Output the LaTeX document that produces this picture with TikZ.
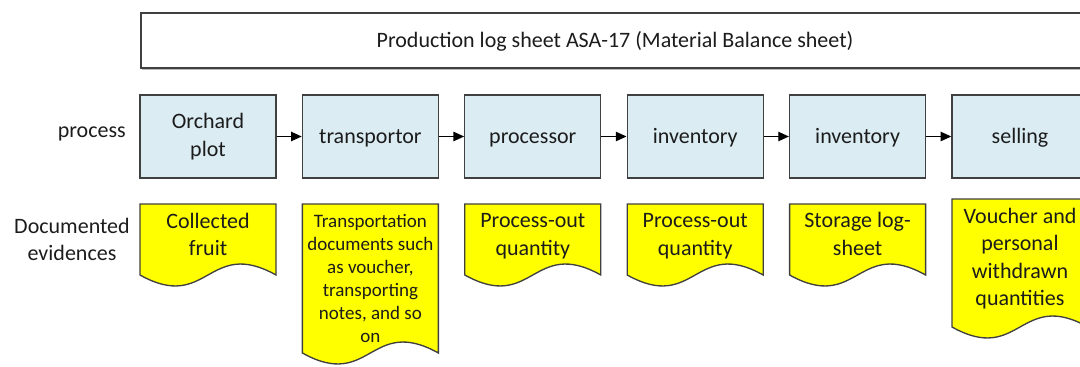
\documentclass[tikz,border=0pt]{standalone}
\usepackage{fontspec}
\setmainfont{Carlito}
\usetikzlibrary{arrows.meta}

\definecolor{procfill}{RGB}{219,236,243}
\definecolor{edgegray}{RGB}{64,64,64}
\definecolor{ink}{RGB}{28,28,28}
\definecolor{docyellow}{RGB}{255,255,0}

% Document-style box with a wavy lower edge: left x, top y, side-bottom y
\newcommand\evidenceshape[3]{%
  \filldraw[docline] (#1,#2) -- ({#1+136},#2) -- ({#1+136},#3)
    .. controls ({#1+68},{#3-38}) and ({#1+68},{#3+38}) .. (#1,#3) -- cycle;
}

\begin{document}
\begin{tikzpicture}[x=0.75pt,y=-0.75pt,
  bigfont/.style={font=\fontsize{16.5}{20.6}\selectfont},
  smallfont/.style={font=\fontsize{14.25}{17.25}\selectfont},
  procbox/.style={draw=edgegray, fill=procfill, line width=1pt,
    minimum width=102pt, minimum height=62.25pt, inner sep=0pt,
    align=center, text=ink, bigfont},
  oneline/.style={text height=13.6pt, text depth=3pt},
  docline/.style={draw=edgegray, fill=docyellow, line width=1pt},
  doctext/.style={align=center, text=ink, inner sep=0pt, bigfont},
  sidelabel/.style={align=center, text=ink, inner sep=0pt, bigfont},
  flow/.style={draw=black, line width=1pt,
    -{Triangle[length=8pt,width=7pt]}},
]
\useasboundingbox (0,0) rectangle (1080,367);
\clip (0,0) rectangle (1080,367);

% sheet heading
\draw[gray!55, line width=1.4pt] (142,69.4) -- (1089,69.4);
\node[draw=edgegray, fill=white, line width=1pt, minimum width=711pt,
  minimum height=41.25pt, inner sep=0pt, text=ink, bigfont, oneline]
  (sheet) at (615,40.5) {Production log sheet ASA-17 (Material Balance sheet)};

% row labels
\node[sidelabel, oneline, anchor=east] (lblprocess) at (126,130.5) {process};
\node[sidelabel] (lblevidence) at (72,239.5) {Documented\\evidences};

% process steps
\node[procbox] (p1) at (208,136.5) {Orchard\\plot};
\node[procbox, oneline] (p2) at (370.4,136.5) {transportor};
\node[procbox, oneline] (p3) at (532.8,136.5) {processor};
\node[procbox, oneline] (p4) at (695.2,136.5) {inventory};
\node[procbox, oneline] (p5) at (857.6,136.5) {inventory};
\node[procbox, oneline] (p6) at (1020,136.5) {selling};

\draw[flow] (p1) -- (p2);
\draw[flow] (p2) -- (p3);
\draw[flow] (p3) -- (p4);
\draw[flow] (p4) -- (p5);
\draw[flow] (p5) -- (p6);

% documented evidences
\evidenceshape{140}{204}{275}
\node[doctext] (d1) at (208,234.5) {Collected\\fruit};

\evidenceshape{302.4}{204}{353}
\node[doctext, smallfont] (d2) at (370.4,278)
  {Transportation\\documents such\\as voucher,\\transporting\\notes, and so\\on};

\evidenceshape{464.8}{204}{275}
\node[doctext] (d3) at (532.8,236) {Process-out\\quantity};

\evidenceshape{627.2}{204}{275}
\node[doctext] (d4) at (695.2,236) {Process-out\\quantity};

\evidenceshape{789.6}{204}{275}
\node[doctext] (d5) at (857.6,234) {Storage log-\\sheet};

\evidenceshape{952}{199}{327}
\node[doctext] (d6) at (1020,258.5) {Voucher and\\personal\\withdrawn\\quantities};
\end{tikzpicture}
\end{document}
